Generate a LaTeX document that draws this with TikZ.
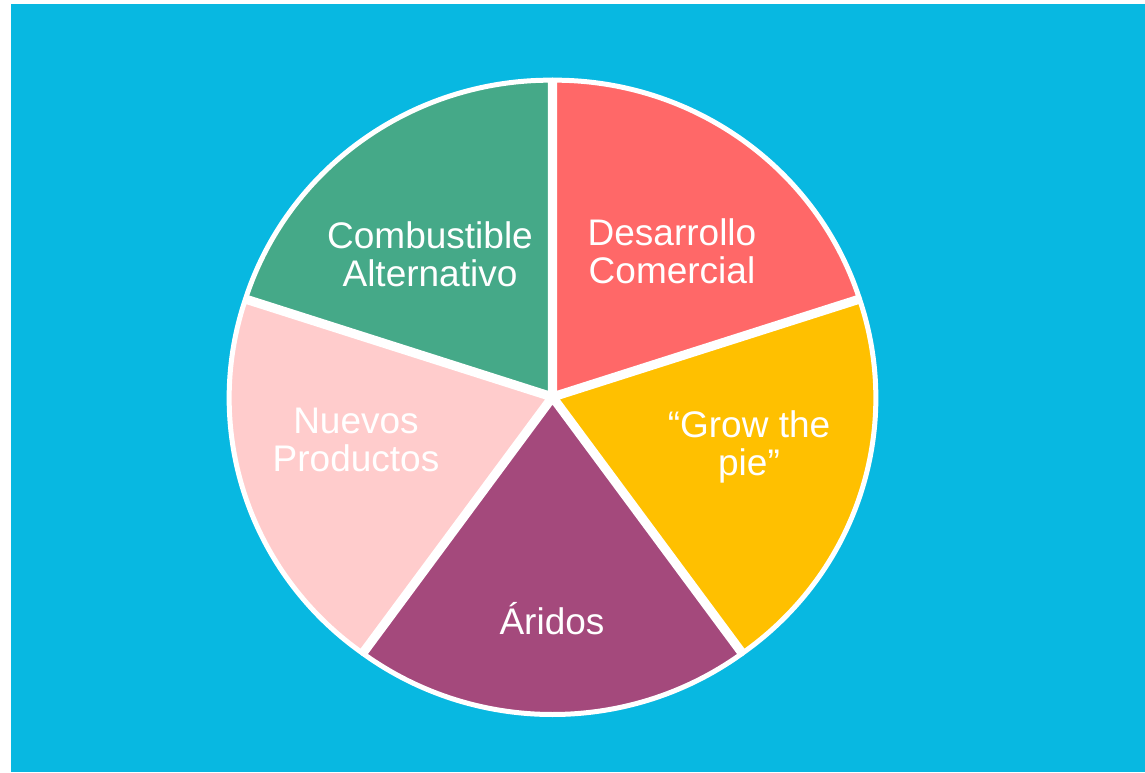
\documentclass[tikz,border=0pt]{standalone}
\usepackage{fontspec}
\setmainfont{Liberation Sans}
\usetikzlibrary{calc}
\definecolor{bgcyan}{RGB}{8,184,225}
\definecolor{sred}{RGB}{255,104,104}
\definecolor{sgreen}{RGB}{69,169,136}
\definecolor{spink}{RGB}{255,204,204}
\definecolor{spurple}{RGB}{164,73,124}
\definecolor{syellow}{RGB}{255,192,0}
\begin{document}
\begin{tikzpicture}[x=1pt,y=1pt,
  slice/.style={draw=white, line width=5pt, line join=miter},
  lbl/.style={text=white, align=center, inner sep=0pt, font=\fontsize{37}{38}\selectfont}]
\useasboundingbox (0,0) rectangle (1145,772);
\fill[white] (0,0) rectangle (1145,772);
\fill[bgcyan] (11,0) rectangle (1145,768);
\coordinate (C) at (552.5,375);
% slices
\draw[slice, fill=sred] ($(C)+(54:3.5pt)$) coordinate (cr) -- ++(18:320pt and 314pt) arc[start angle=18, end angle=90, x radius=320pt, y radius=314pt] -- cycle;
\draw[slice, fill=sgreen] ($(C)+(126:3.5pt)$) coordinate (cg) -- ++(90:320pt and 314pt) arc[start angle=90, end angle=162, x radius=320pt, y radius=314pt] -- cycle;
\draw[slice, fill=spink] ($(C)+(198:3.5pt)$) coordinate (cp) -- ++(162:320pt and 314pt) arc[start angle=162, end angle=234, x radius=320pt, y radius=314pt] -- cycle;
\draw[slice, fill=spurple] ($(C)+(270:3.5pt)$) coordinate (cu) -- ++(234:320pt and 314pt) arc[start angle=234, end angle=306, x radius=320pt, y radius=314pt] -- cycle;
\draw[slice, fill=syellow] ($(C)+(342:3.5pt)$) coordinate (cy) -- ++(306:320pt and 314pt) arc[start angle=306, end angle=378, x radius=320pt, y radius=314pt] -- cycle;
% labels
\node[lbl] (desarrollo) at (672,521) {Desarrollo\\Comercial};
\node[lbl] (combustible) at (430,518) {Combustible\\Alternativo};
\node[lbl] (grow) at (749,325) {“Grow the\\pie”};
\node[lbl] (nuevos) at (356,332) {Nuevos\\Productos};
\node[lbl] (aridos) at (552,153) {Áridos};
\end{tikzpicture}
\end{document}
